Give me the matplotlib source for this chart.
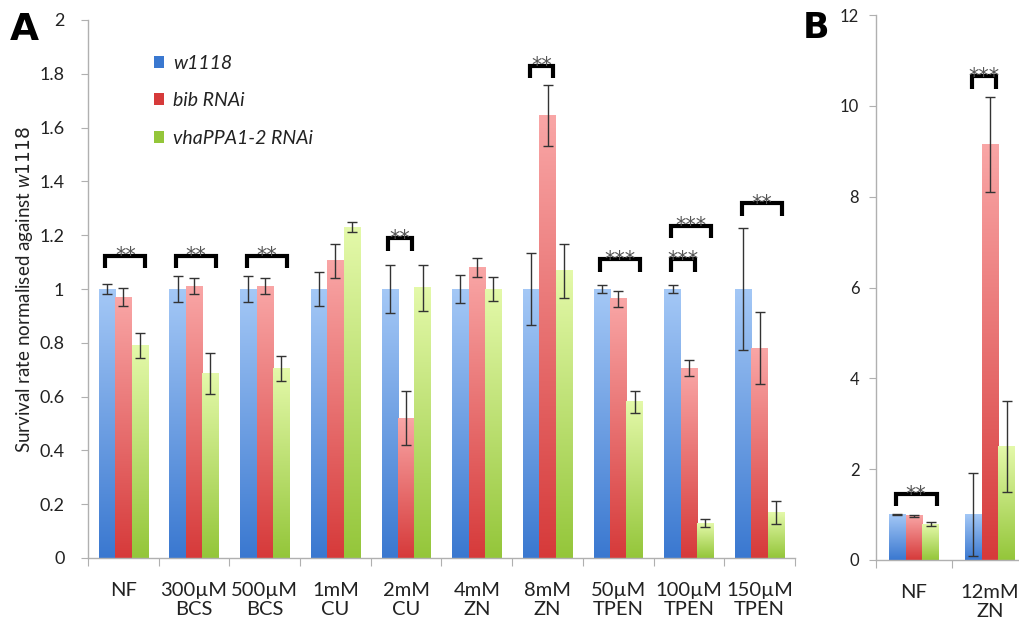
import numpy as np
import matplotlib
matplotlib.use("Agg")
import matplotlib.pyplot as plt
from matplotlib.colors import LinearSegmentedColormap
from matplotlib.patches import Patch

plt.rcParams['font.family'] = ['Lato', 'DejaVu Sans']
plt.rcParams['mathtext.fontset'] = 'custom'
plt.rcParams['mathtext.it'] = 'Lato:italic'

# ---------------- data ----------------
series = ["w1118", "bib RNAi", "vhaPPA1-2 RNAi"]

cats_a = ["NF", "300µM\nBCS", "500µM\nBCS", "1mM\nCU", "2mM\nCU", "4mM\nZN",
          "8mM\nZN", "50µM\nTPEN", "100µM\nTPEN", "150µM\nTPEN"]
w1118_a = [1.00, 1.00, 1.00, 1.00, 1.00, 1.00, 1.00, 1.00, 1.00, 1.00]
w1118_a_err = [0.017, 0.047, 0.048, 0.062, 0.088, 0.053, 0.135, 0.015, 0.015, 0.225]
bib_a = [0.97, 1.01, 1.01, 1.105, 0.52, 1.08, 1.645, 0.963, 0.705, 0.78]
bib_a_err = [0.035, 0.03, 0.03, 0.063, 0.10, 0.037, 0.115, 0.03, 0.03, 0.133]
vha_a = [0.79, 0.685, 0.705, 1.23, 1.005, 1.00, 1.067, 0.58, 0.13, 0.17]
vha_a_err = [0.045, 0.077, 0.047, 0.018, 0.085, 0.045, 0.10, 0.04, 0.015, 0.043]

cats_b = ["NF", "12mM\nZN"]
w1118_b = [1.00, 1.00]
w1118_b_err = [0.01, 0.92]
bib_b = [0.97, 9.15]
bib_b_err = [0.03, 1.05]
vha_b = [0.79, 2.50]
vha_b_err = [0.05, 1.00]

# significance brackets: (category index, first series, last series, height, label)
sig_a = [(0, 0, 2, 1.124, "**"), (1, 0, 2, 1.124, "**"), (2, 0, 2, 1.124, "**"),
         (4, 0, 1, 1.188, "**"), (6, 0, 1, 1.83, "**"), (7, 0, 2, 1.11, "***"),
         (8, 0, 1, 1.11, "***"), (8, 0, 2, 1.235, "***"), (9, 0, 2, 1.318, "**")]
sig_b = [(0, 0, 2, 1.45, "**"), (1, 0, 1, 10.65, "***")]

# ---------------- styling ----------------
grad_cols = [("#a4c8f6", "#3a78d0"), ("#f9a6a6", "#d63a3a"), ("#e4f9aa", "#94c63a")]
axis_col = "#b0b0b0"
text_col = "#222222"

fig = plt.figure(figsize=(10.2, 6.25), dpi=100)
axA = fig.add_axes([88/1020, 67/625, 707/1020, 538/625])
axB = fig.add_axes([876/1020, 65/625, 152/1020, 545/625])


def grad_bars(ax, x, vals, errs, width, cols):
    bars = ax.bar(x, vals, width=width, color="none", edgecolor="none", zorder=2)
    cmap = LinearSegmentedColormap.from_list("g", [cols[1], cols[0]])
    grad = np.linspace(0, 1, 256).reshape(-1, 1)
    for b in bars:
        x0, y0 = b.get_x(), b.get_y()
        w, h = b.get_width(), b.get_height()
        ax.imshow(grad, extent=(x0, x0 + w, y0, y0 + h), origin="lower",
                  cmap=cmap, aspect="auto", zorder=1, interpolation="bilinear")
    ax.errorbar(x, vals, yerr=errs, fmt="none", ecolor="#333333",
                elinewidth=1.0, capsize=3.3, capthick=1.0, zorder=3)
    return bars


def setup(ax, cats, ymax, ystep, fmt):
    n = len(cats)
    ax.set_xlim(0, n)
    ax.set_ylim(0, ymax)
    for s in ["top", "right"]:
        ax.spines[s].set_visible(False)
    for s in ["left", "bottom"]:
        ax.spines[s].set_color(axis_col)
        ax.spines[s].set_linewidth(1.0)
    ticks = np.arange(0, ymax + 1e-9, ystep)
    ax.set_yticks(ticks)
    ax.set_yticklabels([fmt(v) for v in ticks])
    ax.set_xticks(np.arange(0, n + 1))
    ax.set_xticklabels([])
    ax.set_xticks(np.arange(n) + 0.5, minor=True)
    ax.set_xticklabels(cats, minor=True, linespacing=1.15)
    ax.tick_params(axis="x", which="major", length=6, color=axis_col, direction="out")
    ax.tick_params(axis="x", which="minor", length=0, pad=17, labelsize=14.5, colors=text_col)
    ax.tick_params(axis="y", length=5, color=axis_col, labelsize=13, pad=12, labelcolor=text_col)


def fmt_a(v):
    v = round(v, 1)
    return "0" if v == 0 else ("1" if v == 1 else ("2" if v == 2 else f"{v:.1f}"))


def draw_sig(ax, sigs, width, drop, fs):
    for (ci, s0, s1, h, lab) in sigs:
        xa = ci + 0.5 + (s0 - 1) * width - 0.1 * width
        xb = ci + 0.5 + (s1 - 1) * width + 0.35 * width
        ax.plot([xa, xa, xb, xb], [h - drop, h, h, h - drop], color="black",
                lw=3.0, solid_joinstyle="miter", solid_capstyle="butt", zorder=4)
        ax.annotate(lab, ((xa + xb) / 2, h), xytext=(0, -4.8), textcoords="offset points",
                    ha="center", va="baseline", fontsize=fs, color="#555555",
                    family="DejaVu Sans", zorder=5)


wA = 0.232
xa = np.arange(len(cats_a)) + 0.5
vals_a = [w1118_a, bib_a, vha_a]
errs_a = [w1118_a_err, bib_a_err, vha_a_err]
for i in range(3):
    grad_bars(axA, xa + (i - 1) * wA, vals_a[i], errs_a[i], wA, grad_cols[i])
setup(axA, cats_a, 2.0, 0.2, fmt_a)
draw_sig(axA, sig_a, wA, 0.045, 15)

wB = 0.22
xb = np.arange(len(cats_b)) + 0.5
vals_b = [w1118_b, bib_b, vha_b]
errs_b = [w1118_b_err, bib_b_err, vha_b_err]
for i in range(3):
    grad_bars(axB, xb + (i - 1) * wB, vals_b[i], errs_b[i], wB, grad_cols[i])
setup(axB, cats_b, 12, 2, lambda v: f"{int(v)}")
axB.tick_params(axis="y", labelsize=12, pad=7)
draw_sig(axB, sig_b, wB, 0.27, 15)

# legend
leg_handles = [Patch(facecolor=grad_cols[i][1], edgecolor="none") for i in range(3)]
leg = axA.legend(leg_handles, series, loc="upper left", bbox_to_anchor=(0.068, 0.968),
                 frameon=False, handlelength=0.55, handleheight=0.55, handletextpad=0.45,
                 labelspacing=1.05, prop={"style": "italic", "size": 14})
for t in leg.get_texts():
    t.set_color(text_col)

axA.set_ylabel("Survival rate normalised against $\\mathit{w1118}$", fontsize=13.5,
               color=text_col, labelpad=3)

fig.text(10/1020, 1 - 40/625, "A", fontsize=27, fontweight="bold", color="black",
         family="DejaVu Sans")
fig.text(803/1020, 1 - 38/625, "B", fontsize=25, fontweight="bold", color="black",
         family="DejaVu Sans")

fig.savefig("out.png", dpi=100)
